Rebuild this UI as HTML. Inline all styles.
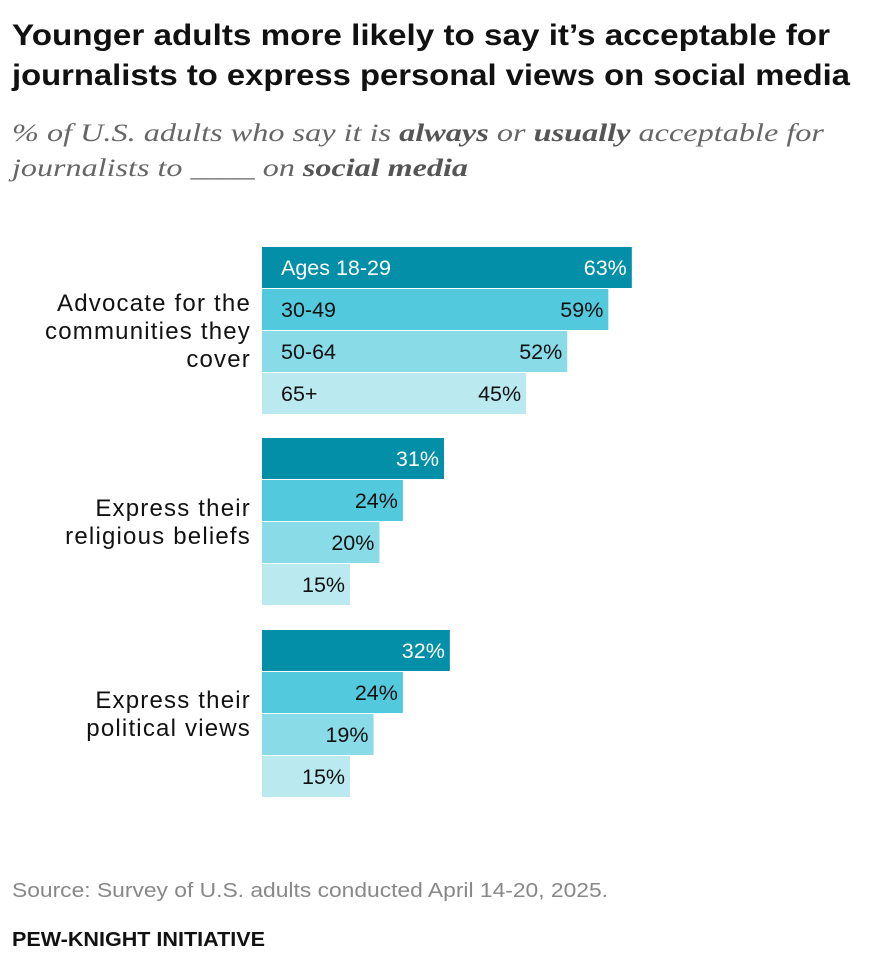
<!DOCTYPE html>
<html><head><meta charset="utf-8"><style>
body{margin:0;background:#fff;width:892px;height:962px;overflow:hidden;font-family:"Liberation Sans",sans-serif}
</style></head><body>
<svg id="chart" width="892" height="962" xmlns="http://www.w3.org/2000/svg">
<text x="12" y="45" font-size="30" font-weight="bold" fill="#111" textLength="818" lengthAdjust="spacingAndGlyphs">Younger adults more likely to say it’s acceptable for</text>
<text x="12" y="85" font-size="30" font-weight="bold" fill="#111" textLength="838" lengthAdjust="spacingAndGlyphs">journalists to express personal views on social media</text>
<text x="12" y="141" font-family="Liberation Serif,serif" font-style="italic" font-size="25" fill="#666" textLength="812" lengthAdjust="spacingAndGlyphs">% of U.S. adults who say it is <tspan font-weight="bold" fill="#555">always</tspan> or <tspan font-weight="bold" fill="#555">usually</tspan> acceptable for</text>
<text x="12" y="176" font-family="Liberation Serif,serif" font-style="italic" font-size="25" fill="#666" textLength="456" lengthAdjust="spacingAndGlyphs">journalists to ____ on <tspan font-weight="bold" fill="#555">social media</tspan></text>
<g id="bars"></g>
<text x="12" y="897" font-size="20" fill="#888" textLength="596" lengthAdjust="spacingAndGlyphs">Source: Survey of U.S. adults conducted April 14-20, 2025.</text>
<text x="12" y="946" font-size="20" font-weight="bold" fill="#111" textLength="253" lengthAdjust="spacingAndGlyphs">PEW-KNIGHT INITIATIVE</text>
</svg>
<script>
const categories = [["Advocate for the","communities they","cover"],["Express their","religious beliefs"],["Express their","political views"]];
const ageGroups = ["Ages 18-29","30-49","50-64","65+"];
const values = [[63,59,52,45],[31,24,20,15],[32,24,19,15]];
const colors = ["#028fa7","#52c9dc","#88dbe7","#bae9f0"];
const x0 = 262, scale = 5.87, rowH = 42, groupTop = [247, 438, 630];
const x = v => x0 + v*scale;
const g = document.getElementById('bars');
const NS = "http://www.w3.org/2000/svg";
function mk(tag, attrs){const e=document.createElementNS(NS,tag);for(const k in attrs)e.setAttribute(k,attrs[k]);return e;}
categories.forEach((cat, ci) => {
  const top = groupTop[ci];
  values[ci].forEach((v, ai) => {
    const y = top + ai*rowH;
    const r = mk('rect',{x:x0,y:y,width:x(v)-x0,height:rowH-1,fill:colors[ai]});
    
    
    g.appendChild(r);
    const t = mk('text',{x:x(v)-5,y:y+28,'text-anchor':'end','font-size':21.5,fill:ai===0?'#fff':'#111'});
    t.textContent = v + '%';
    
    
    g.appendChild(t);
    if (ci === 0) {
      const a = mk('text',{x:281,y:y+28,'font-size':21.5,fill:ai===0?'#fff':'#111'});
      a.textContent = ageGroups[ai];
      
      
      g.appendChild(a);
    }
  });
  const mid = top + 2*rowH;
  const n = cat.length;
  cat.forEach((line, li) => {
    const t = mk('text',{x:251,y:mid + 8 + (li-(n-1)/2)*28,'text-anchor':'end','font-size':24,'letter-spacing':1.2,fill:'#111'});
    t.textContent = line;
    
    
    g.appendChild(t);
  });
});
</script>
</body></html>
